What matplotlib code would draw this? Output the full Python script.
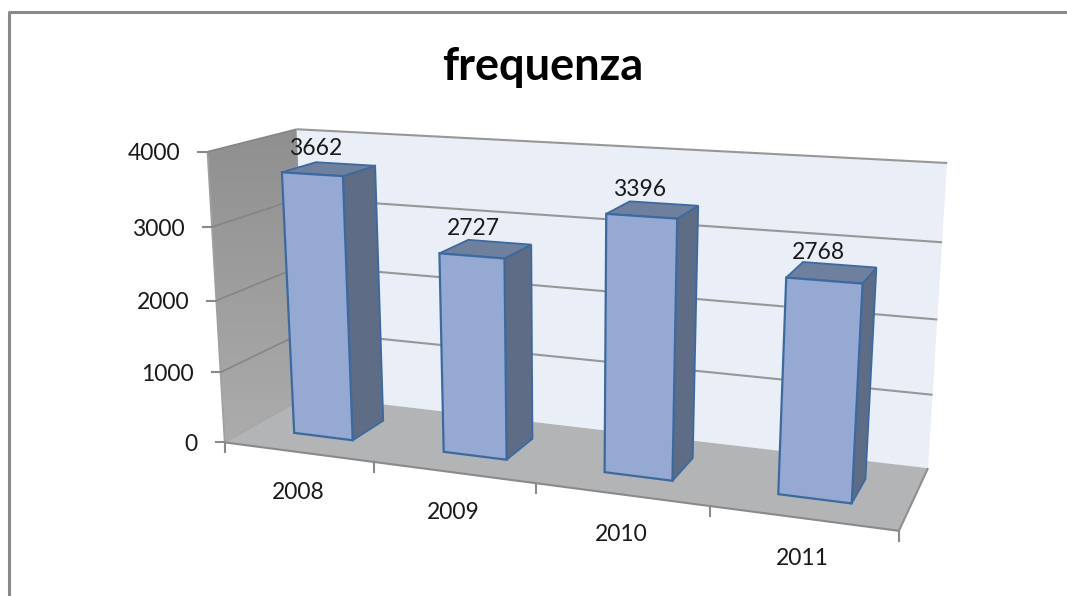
import numpy as np
import matplotlib
matplotlib.use("Agg")
import matplotlib.pyplot as plt
from matplotlib.patches import Polygon

years = ["2008", "2009", "2010", "2011"]
frequenza = [3662, 2727, 3396, 2768]
value_ticks = [0, 1000, 2000, 3000, 4000]

plt.rcParams['font.family'] = ['Lato', 'DejaVu Sans']

# 3d box of the chart: (category, depth, value) seen in the picture as (px, py)
box_3d = [(0, 0, 0), (4, 0, 0), (0, 1, 0), (4, 1, 0), (0, 0, 4000), (0, 1, 4000), (4, 1, 4000)]
box_px = [(225, 442), (899, 531), (308, 396), (928, 468), (207, 152), (297, 129), (947, 163)]

# fit the camera matrix once, everything after goes through project()
rows = []
for (u, v, h), (px, py) in zip(box_3d, box_px):
    h = h / 1000
    rows.append([u, v, h, 1, 0, 0, 0, 0, -px * u, -px * v, -px * h, -px])
    rows.append([0, 0, 0, 0, u, v, h, 1, -py * u, -py * v, -py * h, -py])
camera = np.linalg.svd(np.array(rows, dtype=float))[2][-1].reshape(3, 4)


def project(u, v, h):
    p = camera @ np.array([u, v, h / 1000, 1])
    return p[0] / p[2], p[1] / p[2]


def quad(points, **kw):
    ax.add_patch(Polygon([project(*p) for p in points], closed=True, **kw))


def line(a, b, color="#8a8a8a", lw=1.5, zorder=3):
    xa, ya = project(*a)
    xb, yb = project(*b)
    ax.plot([xa, xb], [ya, yb], color=color, lw=lw, zorder=zorder, solid_capstyle="butt")


fig = plt.figure(figsize=(10.67, 5.96), dpi=100)
ax = fig.add_axes([0, 0, 1, 1])
ax.set_xlim(0, 1067)
ax.set_ylim(596, 0)
ax.axis("off")

# outer frame, only top and left are visible in the screenshot
ax.plot([9, 9, 1067], [596, 12, 12], color="#8a8a8a", lw=2.2, zorder=1)

ax.text(543, 67, "frequenza", fontsize=32.5, fontweight="bold", ha="center", va="center", color="black")

# back wall
quad([(0, 1, 0), (4, 1, 0), (4, 1, 4000), (0, 1, 4000)], facecolor="#e9eef7", edgecolor="none", zorder=2)

# left wall with its gradient
wall = Polygon([project(0, 0, 0), project(0, 1, 0), project(0, 1, 4000), project(0, 0, 4000)],
               closed=True, transform=ax.transData, facecolor="none", edgecolor="none")
ax.add_patch(wall)
grad = np.linspace(0, 1, 256).reshape(-1, 1)
im = ax.imshow(grad, cmap=matplotlib.colors.LinearSegmentedColormap.from_list("w", ["#8f8f8f", "#acacac"]),
               extent=(200, 320, 445, 125), aspect="auto", zorder=2)
im.set_clip_path(wall)
ax.set_xlim(0, 1067)
ax.set_ylim(596, 0)

# floor
quad([(0, 0, 0), (4, 0, 0), (4, 1, 0), (0, 1, 0)], facecolor="#b2b4b6", edgecolor="none", zorder=2)

# gridlines
for h in value_ticks[1:]:
    line((0, 1, h), (4, 1, h), color="#979797", lw=1.5)
    line((0, 0, h), (0, 1, h), color="#858585", lw=1.2)
line((0, 0, 0), (0, 0, 4000), color="#a0a0a0", lw=1.2)
line((0, 0, 0), (4, 0, 0))
line((4, 0, 0), (4, 1, 0), color="#8f8f8f")
line((0, 0, 0), (0, 1, 0), color="#a8a8a8", lw=1)

# value axis ticks and labels
for h in value_ticks:
    x, y = project(0, 0, h)
    ax.plot([x - 9, x], [y, y], color="#8a8a8a", lw=1.5, zorder=3)
    ax.text(x - 27, y + 2, str(h), fontsize=16.5, ha="right", va="center", color="#1a1a1a", zorder=6)

# category ticks and labels
for i in range(len(years) + 1):
    x, y = project(i, 0, 0)
    ax.plot([x, x], [y, y + 10], color="#8a8a8a", lw=1.5, zorder=3)
for i, year in enumerate(years):
    x, y = project(i + 0.5, 0, 0)
    ax.text(x, y + 40, year, fontsize=16.5, ha="center", va="center", color="#1a1a1a", zorder=6)

# bars, gap width and gap depth 150% as excel does it
left = 0.3
right = 0.7
front = 0.3
back = 0.7
edge = "#3c6a9f"
for i, val in enumerate(frequenza):
    u0 = i + left
    u1 = i + right
    quad([(u1, front, 0), (u1, back, 0), (u1, back, val), (u1, front, val)],
         facecolor="#5e6c85", edgecolor=edge, lw=1.3, zorder=4)
    quad([(u0, front, val), (u1, front, val), (u1, back, val), (u0, back, val)],
         facecolor="#6f7f9e", edgecolor=edge, lw=1.3, zorder=4)
    quad([(u0, front, 0), (u1, front, 0), (u1, front, val), (u0, front, val)],
         facecolor="#95a9d3", edgecolor=edge, lw=1.6, zorder=5)
    x, y = project(i + 0.5, 0.5, val)
    ax.text(x - 13, y - 20, str(val), fontsize=16.5, ha="center", va="center", color="#1a1a1a", zorder=6)

fig.savefig("out.png", dpi=100, facecolor="white")
